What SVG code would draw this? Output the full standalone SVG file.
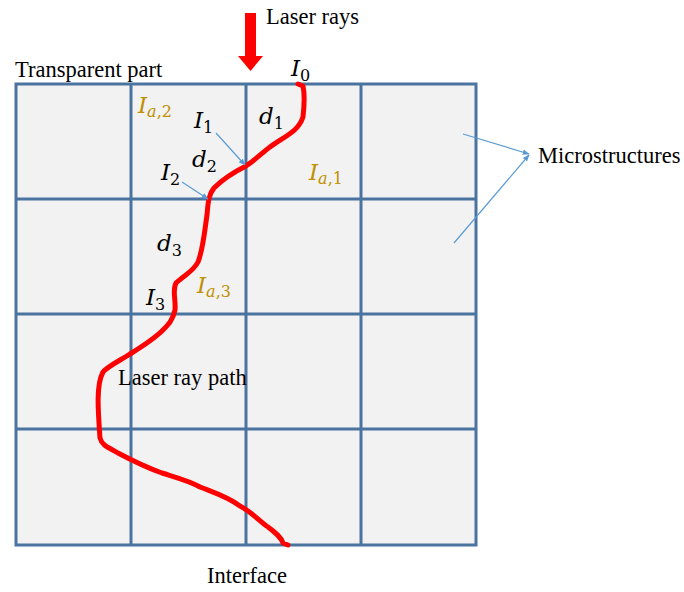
<svg xmlns="http://www.w3.org/2000/svg" width="684" height="592" viewBox="0 0 684 592">
<defs>
<style>
.t{font-family:"Liberation Serif","Times New Roman",serif;font-size:22.5px;fill:#000}
.m{font-family:"DejaVu Serif","Liberation Serif",serif;font-style:italic;font-size:23px;fill:#000}
.g{fill:#bf9000}
.s{font-size:16px;font-style:normal}
.si{font-size:16px;font-style:italic}
.grid{stroke:#4a73a0;stroke-width:3;fill:none}
.ptr{stroke:#5b9bd5;stroke-width:1.2;fill:none}
</style>
<marker id="ah" viewBox="0 0 10 10" refX="9" refY="5" markerWidth="7" markerHeight="7" orient="auto" markerUnits="userSpaceOnUse">
<path d="M0,1 L10,5 L0,9 Z" fill="#5b9bd5"/>
</marker>
</defs>
<rect width="684" height="592" fill="#fff"/>
<g id="part">
<rect x="16" y="84" width="460" height="461" fill="#f2f2f2"/>
<path class="grid" d="M16,84 H476 V545 H16 Z M131,84 V545 M246,84 V545 M361,84 V545 M16,199 H476 M16,314 H476 M16,429 H476"/>
</g>
<g id="laser-arrow">
<rect x="245" y="13" width="11" height="44" fill="#ff0000"/>
<path d="M238,56 H263 L250.5,71 Z" fill="#ff0000"/>
</g>
<g id="ray-path">
<path d="M298,84 L303,86 C305,95 304,108 303,117 C298,132 285,136 270,147 C262,153 255,160 246,166 C236,171 222,180 214,188 C208,195 208,205 207,215 C205,228 203,250 198,262 C193,272 184,275 176,283 C172,290 176,300 175,310 C173,320 168,325 163,330 C155,338 143,346 130,354 C121,360 108,366 103,372 C96,385 98,410 100,438 C102,446 110,448 118,453 C135,462 148,468 162,473 C178,478 190,481 200,487 C215,493 228,497 240,506 C252,512 260,522 268,527 C276,533 281,537 283,543 L288,545" fill="none" stroke="#ff0000" stroke-width="5" stroke-linejoin="round" stroke-linecap="round"/>
</g>
<g id="connectors">
<line class="ptr" x1="216" y1="133" x2="245" y2="165" marker-end="url(#ah)"/>
<line class="ptr" x1="182" y1="182" x2="208" y2="199" marker-end="url(#ah)"/>
<line class="ptr" x1="463" y1="134" x2="529" y2="154" marker-end="url(#ah)"/>
<line class="ptr" x1="454" y1="243" x2="529" y2="155" marker-end="url(#ah)"/>
</g>
<g id="labels">
<text class="t" x="266" y="24">Laser rays</text>
<text class="t" x="15" y="77">Transparent part</text>
<text class="t" x="538" y="163">Microstructures</text>
<text class="t" x="118" y="385">Laser ray path</text>
<text class="t" x="207" y="583">Interface</text>
<text class="m" x="291" y="76">I<tspan class="s" dy="5">0</tspan></text>
<text class="m" x="194" y="128">I<tspan class="s" dy="5">1</tspan></text>
<text class="m" x="161" y="180">I<tspan class="s" dy="5">2</tspan></text>
<text class="m" x="146" y="305">I<tspan class="s" dy="5">3</tspan></text>
<text class="m" x="259" y="124">d<tspan class="s" dy="5">1</tspan></text>
<text class="m" x="192" y="167">d<tspan class="s" dy="5">2</tspan></text>
<text class="m" x="157" y="251">d<tspan class="s" dy="5">3</tspan></text>
<text class="m g" x="138" y="113">I<tspan class="si" dy="4">a</tspan><tspan class="s">,2</tspan></text>
<text class="m g" x="309" y="180">I<tspan class="si" dy="4">a</tspan><tspan class="s">,1</tspan></text>
<text class="m g" x="197" y="293">I<tspan class="si" dy="4">a</tspan><tspan class="s">,3</tspan></text>
</g>
</svg>
